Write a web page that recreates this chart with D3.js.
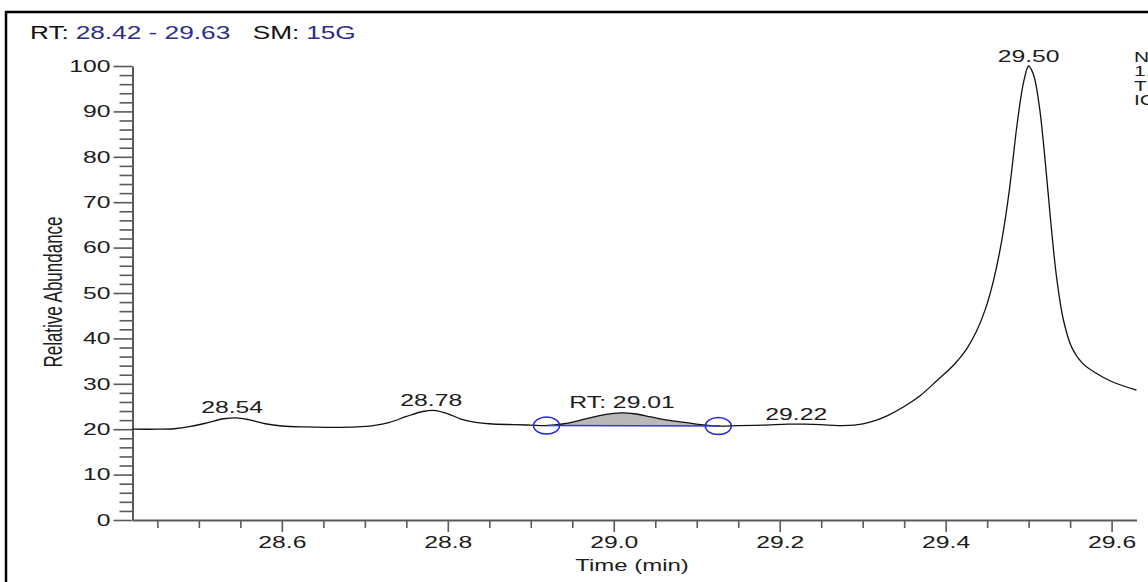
<!DOCTYPE html>
<html>
<head>
<meta charset="utf-8">
<script src="https://cdn.jsdelivr.net/npm/d3@7"></script>
<style>
  html, body { margin: 0; padding: 0; background: #fff; overflow: hidden; }
  svg { display: block; }
  text { font-family: "Liberation Sans", Arial, sans-serif; }
</style>
</head>
<body>
<svg id="chart" width="1148" height="582"></svg>
<script>
// ---------------- data ----------------
const times = [
  28.420, 28.450, 28.470, 28.490, 28.510, 28.530, 28.545, 28.560, 28.580, 28.600,
  28.630, 28.660, 28.690, 28.710, 28.730, 28.750, 28.770, 28.785, 28.800, 28.815,
  28.830, 28.850, 28.880, 28.900, 28.919, 28.940, 28.960, 28.980, 29.000, 29.010,
  29.025, 29.045, 29.065, 29.085, 29.105, 29.126, 29.150, 29.180, 29.210, 29.230,
  29.250, 29.270, 29.290, 29.310, 29.330, 29.350, 29.370, 29.390, 29.410, 29.425,
  29.437, 29.448, 29.458, 29.468, 29.477, 29.486, 29.494, 29.500, 29.506, 29.513,
  29.520, 29.527, 29.534, 29.542, 29.552, 29.565, 29.580, 29.600, 29.630
];
const intensities = [
  20.0, 20.0, 20.1, 20.6, 21.4, 22.3, 22.5, 22.1, 21.2, 20.7,
  20.5, 20.4, 20.5, 20.8, 21.5, 22.8, 23.9, 24.1, 23.4, 22.3,
  21.6, 21.2, 21.0, 20.9, 20.8, 21.2, 22.0, 22.9, 23.5, 23.6,
  23.4, 22.7, 22.0, 21.5, 21.0, 20.7, 20.8, 20.9, 21.1, 21.1,
  21.0, 20.8, 20.9, 21.6, 23.0, 25.0, 27.5, 30.8, 34.2, 37.6,
  41.5, 46.5, 53.0, 62.0, 73.0, 87.0, 96.5, 100.0, 98.0, 91.0,
  79.0, 65.0, 53.0, 44.0, 38.0, 34.5, 32.5, 30.5, 28.6
];

const peakLabelTimes  = [28.54, 28.78, 29.01, 29.22, 29.50];
const peakLabelValues = [22.5, 24.1, 23.6, 21.1, 100.0];
const peakLabelTexts  = ["28.54", "28.78", "RT: 29.01", "29.22", "29.50"];

const integTimes  = [28.919, 29.126];   // integration start / end
const integValues = [20.8, 20.7];       // baseline levels at those points

const xMajorTicks = [28.6, 28.8, 29.0, 29.2, 29.4, 29.6];
const xMinorTicks = [28.45, 28.50, 28.55, 28.65, 28.70, 28.75, 28.85, 28.90, 28.95,
                     29.05, 29.10, 29.15, 29.25, 29.30, 29.35, 29.45, 29.50, 29.55];
const yMajorTicks = [0, 10, 20, 30, 40, 50, 60, 70, 80, 90, 100];
const yMinorTicks = d3.range(0, 101, 2).filter(v => v % 10 !== 0);

const titleParts = [
  {text: "RT:", color: "#111"}, {text: "28.42 - 29.63", color: "#2b2d8c"},
  {text: "SM:", color: "#111"}, {text: "15G", color: "#2b2d8c"}
];
const infoLines = ["NL: 1.06E7", "1.95E+07", "TIC MS", "ICIS"];

// ---------------- layout ----------------
const SX = 1.5;  // horizontal stretch of the glyphs in the source picture
const svg = d3.select("#chart");
const x = d3.scaleLinear().domain([28.42, 29.63]).range([132.5, 1136.5]);
const y = d3.scaleLinear().domain([0, 100]).range([520, 66]);
const axisColor = "#5a5a5a";
const textColor = "#1c1c1c";

// frame
svg.append("rect").attr("x", 6).attr("y", 12).attr("width", 1200).attr("height", 640)
  .attr("fill", "none").attr("stroke", "#000").attr("stroke-width", 2.5);

// title
const title = svg.append("text").attr("transform", `translate(30,39) scale(${SX},1)`)
  .attr("font-size", 17.5);
titleParts.forEach((p, i) => {
  title.append("tspan").attr("dx", i === 0 ? 0 : (i === 2 ? 15 : 4.5))
    .attr("fill", p.color).text(p.text);
});

// right info text (clipped by page edge, as in the source)
infoLines.forEach((t, i) => {
  svg.append("text").attr("transform", `translate(1134,${62 + i * 14.3}) scale(${SX},1)`)
    .attr("font-size", 14).attr("fill", textColor).text(t);
});

// axes
function styleAxis(g) {
  g.select(".domain").attr("stroke", axisColor).attr("stroke-width", 2);
  g.selectAll(".tick line").attr("stroke", axisColor).attr("stroke-width", 1.6);
}
const gxMinor = svg.append("g").attr("transform", "translate(0,521)")
  .call(d3.axisBottom(x).tickValues(xMinorTicks).tickSize(7).tickSizeOuter(0).tickFormat(""));
gxMinor.select(".domain").remove();
gxMinor.selectAll(".tick line").attr("stroke", axisColor).attr("stroke-width", 1.6);

const gx = svg.append("g").attr("transform", "translate(0,520)")
  .call(d3.axisBottom(x).tickValues(xMajorTicks).tickSize(12).tickSizeOuter(0).tickPadding(4)
        .tickFormat(d3.format(".1f")));
styleAxis(gx);
gx.selectAll(".tick text").attr("font-size", 16.5).attr("fill", textColor)
  .attr("font-family", "Liberation Sans, Arial, sans-serif")
  .attr("transform", `scale(${SX},1)`);

const gyMinor = svg.append("g").attr("transform", "translate(132.5,0)")
  .call(d3.axisLeft(y).tickValues(yMinorTicks).tickSize(13).tickSizeOuter(0).tickFormat(""));
gyMinor.select(".domain").remove();
gyMinor.selectAll(".tick line").attr("stroke", axisColor).attr("stroke-width", 1.6);

const gy = svg.append("g").attr("transform", "translate(132.5,0)")
  .call(d3.axisLeft(y).tickValues(yMajorTicks).tickSize(19).tickSizeOuter(0).tickPadding(3)
        .tickFormat(d3.format("d")));
styleAxis(gy);
gy.selectAll(".tick text").attr("font-size", 16.5).attr("fill", textColor)
  .attr("font-family", "Liberation Sans, Arial, sans-serif")
  .attr("x", -22 / SX).attr("transform", `scale(${SX},1)`);

// axis titles
svg.append("text").attr("transform", `translate(632,571) scale(${SX},1)`)
  .attr("text-anchor", "middle").attr("font-size", 16).attr("fill", textColor).text("Time (min)");
svg.append("text").attr("transform", `translate(61.5,292) scale(${SX},1) rotate(-90)`)
  .attr("text-anchor", "middle").attr("font-size", 17).attr("fill", textColor).text("Relative Abundance");

// data
const pts = times.map((t, i) => ({t, v: intensities[i]}));
const curve = d3.curveCatmullRom.alpha(0.5);

// integrated peak fill
const base = d3.scaleLinear().domain(integTimes).range(integValues);
const seg = pts.filter(p => p.t >= integTimes[0] - 1e-9 && p.t <= integTimes[1] + 1e-9);
svg.append("path").datum(seg)
  .attr("d", d3.area().curve(curve).x(p => x(p.t)).y0(p => y(base(p.t))).y1(p => y(p.v)))
  .attr("fill", "#b9b9b9");

// chromatogram trace
svg.append("path").datum(pts)
  .attr("d", d3.line().curve(curve).x(p => x(p.t)).y(p => y(p.v)))
  .attr("fill", "none").attr("stroke", "#111").attr("stroke-width", 1.3);

// integration baseline & markers
svg.append("line")
  .attr("x1", x(integTimes[0])).attr("y1", y(integValues[0]))
  .attr("x2", x(integTimes[1])).attr("y2", y(integValues[1]))
  .attr("stroke", "#3636d8").attr("stroke-width", 1.6);
integTimes.forEach((t, i) => {
  svg.append("ellipse").attr("cx", x(t)).attr("cy", y(integValues[i]))
    .attr("rx", 13).attr("ry", 8.5)
    .attr("fill", "none").attr("stroke", "#2424e0").attr("stroke-width", 1.5);
});

// peak labels
peakLabelTimes.forEach((t, i) => {
  svg.append("text")
    .attr("transform", `translate(${x(t)},${y(peakLabelValues[i]) - 4.5}) scale(${SX},1)`)
    .attr("text-anchor", "middle").attr("font-size", 16.5).attr("fill", textColor)
    .text(peakLabelTexts[i]);
});
</script>
</body>
</html>
